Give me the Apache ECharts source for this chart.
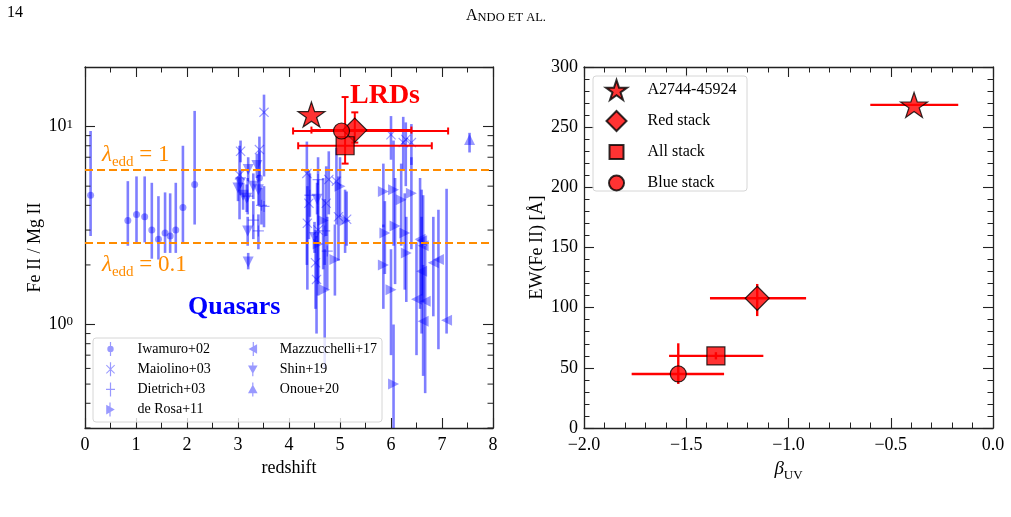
<!DOCTYPE html>
<html lang="en">
<head>
<meta charset="UTF-8">
<title>Fe II / Mg II vs redshift and EW(Fe II) vs beta_UV</title>
<script src="https://cdn.jsdelivr.net/npm/echarts@6/dist/echarts.min.js"></script>
<style>
    html, body { margin: 0; padding: 0; background: #fff; }
    #chart { width: 1011px; height: 517px; }
</style>
</head>
<body>
<div id="chart"></div>
<script>
// ---- quasar samples, each row: [redshift, FeII/MgII, lower, upper] ----
var iwamuro02 = [
    [0.11, 4.5, 2.8, 9.5], [0.84, 3.35, 2.5, 5.3], [1.01, 3.6, 2.6, 5.6], [1.17, 3.5, 2.6, 5.6],
    [1.31, 3.0, 2.15, 5.2], [1.44, 2.7, 2.13, 4.45], [1.57, 2.9, 2.3, 4.65], [1.67, 2.8, 2.3, 4.6],
    [1.78, 3.0, 2.3, 5.2], [1.92, 3.9, 2.6, 8.0], [2.15, 5.1, 3.2, 12.0], [3.42, 5.5, 4.0, 7.5]
];
var maiolino03 = [
    [3.05, 7.5, 6.6, 8.5], [3.03, 5.7, 3.4, 8.0], [3.42, 7.65, 5.6, 8.9], [3.51, 11.8, 5.6, 14.5],
    [4.35, 5.8, 2.0, 8.4], [4.36, 3.25, 1.5, 5.0], [4.39, 4.1, 2.7, 6.0], [4.54, 1.69, 0.9, 2.8],
    [4.52, 2.05, 1.2, 3.0], [4.57, 3.0, 1.6, 5.4], [4.73, 4.1, 2.8, 6.3], [4.78, 5.4, 3.6, 7.5],
    [4.93, 5.3, 3.2, 7.8], [4.97, 3.5, 2.1, 5.6], [5.13, 3.4, 2.5, 4.7], [6.0, 9.1, 6.8, 11.3],
    [6.24, 8.3, 6.0, 11.2], [6.29, 8.6, 5.0, 10.5], [6.4, 8.3, 6.4, 10.3]
];
var dietrich03 = [
    [3.19, 4.45, 3.6, 5.5], [3.3, 3.37, 2.7, 4.2], [3.4, 2.97, 2.4, 3.6], [3.46, 4.0, 3.2, 4.9],
    [3.51, 3.95, 3.1, 5.0], [4.41, 4.5, 3.5, 5.8], [4.57, 5.4, 4.0, 7.0], [4.7, 2.97, 2.0, 4.3],
    [4.75, 2.35, 1.5, 3.5]
];
var deRosa11 = [
    [4.57, 2.55, 1.4, 4.0], [4.67, 3.35, 1.9, 5.5], [4.7, 1.5, 0.6, 2.4], [4.9, 2.13, 1.4, 3.2],
    [5.0, 5.0, 3.5, 7.0], [5.1, 3.35, 2.3, 4.8], [5.85, 4.7, 3.1, 6.5], [5.85, 2.0, 1.2, 3.2],
    [5.88, 2.9, 1.8, 4.2], [6.0, 1.5, 0.7, 2.4], [6.05, 4.8, 2.5, 8.5], [6.05, 0.5, 0.2, 1.0],
    [6.08, 3.15, 1.6, 5.5], [6.2, 4.27, 2.5, 6.5], [6.27, 2.9, 1.5, 4.6], [6.3, 2.3, 1.3, 3.5],
    [6.4, 4.6, 2.4, 7.0]
];
var mazzucchelli17 = [
    [6.5, 1.34, 0.7, 2.6], [6.57, 2.7, 1.2, 5.5], [6.6, 2.65, 1.4, 4.8], [6.6, 1.86, 0.9, 3.5],
    [6.63, 2.5, 1.3, 4.5], [6.63, 1.04, 0.55, 2.0], [6.67, 1.31, 0.45, 2.5], [6.83, 2.05, 1.1, 3.5],
    [6.93, 2.13, 0.75, 3.8], [7.09, 1.05, 0.9, 4.85]
];
var shin19 = [
    [3.0, 4.9, 4.2, 5.6], [3.05, 5.2, 4.5, 6.0], [3.1, 4.5, 3.8, 5.2], [3.17, 4.35, 3.7, 5.1],
    [3.19, 2.97, 2.5, 3.5], [3.2, 6.07, 5.3, 7.0], [3.2, 2.07, 1.9, 2.3], [3.3, 5.0, 4.3, 5.8],
    [3.37, 6.35, 5.5, 7.3], [3.4, 4.8, 4.0, 5.7], [4.5, 2.75, 2.3, 3.3], [4.55, 4.3, 3.6, 5.2]
];
var onoue20 = [
    [7.54, 8.6, 7.4, 9.3]
];

// Eddington ratio levels of the dashed lines
var eddLevels = [6.07, 2.6];
var eddLabels = ['1', '0.1'];

// ---- LRDs ----
var lrdNames = ['A2744-45924', 'Red stack', 'All stack', 'Blue stack'];
// left panel
var lrdRedshift   = [4.44, 5.29, 5.10, 5.03];
var lrdRatio      = [11.5, 9.6, 8.0, 9.5];
var lrdRedshiftLo = [null, 4.44, 4.18, 4.08];
var lrdRedshiftHi = [null, 6.40, 6.80, 7.12];
var lrdRatioLo    = [null, 8.3, 6.5, null];
var lrdRatioHi    = [null, 11.8, 14.1, null];
// right panel
var betaUV   = [-0.386, -1.153, -1.355, -1.539];
var betaLo   = [-0.60, -1.384, -1.584, -1.767];
var betaHi   = [-0.17, -0.914, -1.123, -1.315];
var ewFe     = [268.5, 107.8, 59.9, 44.9];
var ewLo     = [null, 93, 57, 36.6];
var ewHi     = [null, 119.7, 63, 70.4];

// minor ticks of the log axis
var logMinorTicks = [0.3, 0.4, 0.5, 0.6, 0.7, 0.8, 0.9, 2, 3, 4, 5, 6, 7, 8, 9];

var SERIF = '"Liberation Serif", "DejaVu Serif", serif';
var BLUE = 'rgba(0,0,255,0.5)';
var RED = '#ff0000';
var ORANGE = '#ff8c00';
var AXIS = '#222';
var Y_MIN = 0.3, Y_MAX = 20;

// marker shapes
function starPath() {
    var s = 'path://';
    for (var i = 0; i < 10; i++) {
        var a = (-90 + i * 36) * Math.PI / 180;
        var r = i % 2 ? 3.82 : 10;
        s += (i ? 'L' : 'M') + (r * Math.cos(a)).toFixed(3) + ',' + (r * Math.sin(a)).toFixed(3);
    }
    return s + 'Z';
}
var STAR = starPath();
var DIAMOND = 'path://M0,-10L10,0L0,10L-10,0Z';
var PLUS = 'path://M-0.6,-5L0.6,-5L0.6,-0.6L5,-0.6L5,0.6L0.6,0.6L0.6,5L-0.6,5L-0.6,0.6L-5,0.6L-5,-0.6L-0.6,-0.6Z';
var CROSS = 'path://M-5,-4.2L-4.2,-5L0,-0.8L4.2,-5L5,-4.2L0.8,0L5,4.2L4.2,5L0,0.8L-4.2,5L-5,4.2L-0.8,0Z';
var TRI_R = 'path://M-4,-5L5,0L-4,5Z';
var TRI_L = 'path://M4,-5L4,5L-5,0Z';
var TRI_D = 'path://M-5,-4L5,-4L0,5Z';
var TRI_U = 'path://M0,-5L5,4L-5,4Z';

// legend icons: marker with the error bar through it
var BAR = 'M-0.6,-7L0.6,-7L0.6,7L-0.6,7Z';
var LEG = {
    'Iwamuro+02': 'path://' + BAR + 'M-3.2,0A3.2,3.2 0 1 1 3.2,0A3.2,3.2 0 1 1 -3.2,0Z',
    'Maiolino+03': 'path://' + BAR + 'M-4.5,-3.8L-3.8,-4.5L0,-0.7L3.8,-4.5L4.5,-3.8L0.7,0L4.5,3.8L3.8,4.5L0,0.7L-3.8,4.5L-4.5,3.8L-0.7,0Z',
    'Dietrich+03': 'path://' + BAR + 'M-4.5,-0.6L4.5,-0.6L4.5,0.6L-4.5,0.6Z',
    'de Rosa+11': 'path://' + BAR + 'M-3.8,-4.8L4.8,0L-3.8,4.8Z',
    'Mazzucchelli+17': 'path://' + BAR + 'M3.8,-4.8L3.8,4.8L-4.8,0Z',
    'Shin+19': 'path://' + BAR + 'M-4.8,-3.8L4.8,-3.8L0,4.8Z',
    'Onoue+20': 'path://' + BAR + 'M0,-4.8L4.8,3.8L-4.8,3.8Z'
};

var quasarSets = [
    {name: 'Iwamuro+02', data: iwamuro02, symbol: 'circle', size: 7},
    {name: 'Maiolino+03', data: maiolino03, symbol: CROSS, size: 10},
    {name: 'Dietrich+03', data: dietrich03, symbol: PLUS, size: 11},
    {name: 'de Rosa+11', data: deRosa11, symbol: TRI_R, size: 11},
    {name: 'Mazzucchelli+17', data: mazzucchelli17, symbol: TRI_L, size: 11},
    {name: 'Shin+19', data: shin19, symbol: TRI_D, size: 11},
    {name: 'Onoue+20', data: onoue20, symbol: TRI_U, size: 11}
];

function numAxis(o) {
    var base = {
        type: 'value',
        splitLine: {show: false},
        axisLine: {show: true, onZero: false, lineStyle: {color: AXIS, width: 1.3}},
        axisTick: {show: true, inside: true, length: 10, lineStyle: {color: AXIS, width: 1.1}},
        minorTick: {show: true, length: 5.5, lineStyle: {color: AXIS, width: 1}},
        axisLabel: {color: '#000', fontFamily: SERIF, fontSize: 18},
        nameTextStyle: {color: '#000', fontFamily: SERIF, fontSize: 18}
    };
    for (var k in o) {
        if (typeof o[k] === 'object' && base[k] && !Array.isArray(o[k])) {
            for (var j in o[k]) base[k][j] = o[k][j];
        } else base[k] = o[k];
    }
    return base;
}

var chart = echarts.init(document.getElementById('chart'));

var series = [];

// blue error bars (vertical)
var allQuasars = [];
quasarSets.forEach(function (s) { allQuasars = allQuasars.concat(s.data); });
series.push({
    type: 'custom', xAxisIndex: 0, yAxisIndex: 0, silent: true, z: 2,
    data: allQuasars,
    renderItem: function (params, api) {
        var x = api.value(0);
        var lo = api.coord([x, Math.max(api.value(2), Y_MIN)]);
        var hi = api.coord([x, Math.min(api.value(3), Y_MAX)]);
        return {type: 'line', shape: {x1: lo[0], y1: lo[1], x2: hi[0], y2: hi[1]},
            style: {stroke: BLUE, lineWidth: 2.6}};
    }
});

// blue markers
quasarSets.forEach(function (s) {
    series.push({
        type: 'scatter', name: s.name, xAxisIndex: 0, yAxisIndex: 0, z: 3,
        symbol: s.symbol, symbolSize: s.size,
        itemStyle: {color: BLUE},
        data: s.data.map(function (d) { return [d[0], d[1]]; })
    });
});

// minor ticks of the log axis + dashed Eddington lines
series.push({
    type: 'custom', xAxisIndex: 0, yAxisIndex: 0, silent: true, z: 4,
    data: logMinorTicks.map(function (v) { return [0, v]; }),
    renderItem: function (params, api) {
        var cs = params.coordSys;
        var y = api.coord([0, api.value(1)])[1];
        var st = {stroke: AXIS, lineWidth: 1};
        return {type: 'group', children: [
            {type: 'line', shape: {x1: cs.x, y1: y, x2: cs.x + 5.5, y2: y}, style: st},
            {type: 'line', shape: {x1: cs.x + cs.width - 5.5, y1: y, x2: cs.x + cs.width, y2: y}, style: st}
        ]};
    },
    markLine: {
        silent: true, symbol: 'none',
        label: {show: false},
        lineStyle: {color: ORANGE, width: 2, type: [8, 4]},
        data: eddLevels.map(function (v) { return {yAxis: v}; })
    }
});

// red error bars, left panel (capped)
series.push({
    type: 'custom', xAxisIndex: 0, yAxisIndex: 0, silent: true, z: 5,
    data: lrdRedshift.map(function (z, i) { return [z, lrdRatio[i]]; }),
    renderItem: function (params, api) {
        var i = params.dataIndex, ch = [], c = 3.5;
        var st = {stroke: RED, lineWidth: 2};
        if (lrdRedshiftLo[i] != null) {
            var a = api.coord([lrdRedshiftLo[i], lrdRatio[i]]), b = api.coord([lrdRedshiftHi[i], lrdRatio[i]]);
            ch.push({type: 'line', shape: {x1: a[0], y1: a[1], x2: b[0], y2: b[1]}, style: st});
            ch.push({type: 'line', shape: {x1: a[0], y1: a[1] - c, x2: a[0], y2: a[1] + c}, style: st});
            ch.push({type: 'line', shape: {x1: b[0], y1: b[1] - c, x2: b[0], y2: b[1] + c}, style: st});
        }
        if (lrdRatioLo[i] != null) {
            var p = api.coord([lrdRedshift[i], lrdRatioLo[i]]), q = api.coord([lrdRedshift[i], lrdRatioHi[i]]);
            ch.push({type: 'line', shape: {x1: p[0], y1: p[1], x2: q[0], y2: q[1]}, style: st});
            ch.push({type: 'line', shape: {x1: p[0] - c, y1: p[1], x2: p[0] + c, y2: p[1]}, style: st});
            ch.push({type: 'line', shape: {x1: q[0] - c, y1: q[1], x2: q[0] + c, y2: q[1]}, style: st});
        }
        return {type: 'group', children: ch};
    }
});

// red error bars, right panel
series.push({
    type: 'custom', xAxisIndex: 2, yAxisIndex: 2, silent: true, z: 5,
    data: betaUV.map(function (b, i) { return [b, ewFe[i]]; }),
    renderItem: function (params, api) {
        var i = params.dataIndex, ch = [];
        var st = {stroke: RED, lineWidth: 2.4};
        var a = api.coord([betaLo[i], ewFe[i]]), b = api.coord([betaHi[i], ewFe[i]]);
        ch.push({type: 'line', shape: {x1: a[0], y1: a[1], x2: b[0], y2: b[1]}, style: st});
        if (ewLo[i] != null) {
            var p = api.coord([betaUV[i], ewLo[i]]), q = api.coord([betaUV[i], ewHi[i]]);
            ch.push({type: 'line', shape: {x1: p[0], y1: p[1], x2: q[0], y2: q[1]}, style: st});
        }
        return {type: 'group', children: ch};
    }
});

// red markers in both panels
var lrdSymbols = [STAR, DIAMOND, 'rect', 'circle'];
var lrdSizes = [[27, 25], 24, 18, 16];
var lrdIcons = [STAR, DIAMOND,
    'path://M0,-10M0,10M-7,-7L7,-7L7,7L-7,7Z',
    'path://M0,-10M0,10M-7.5,0A7.5,7.5 0 1 1 7.5,0A7.5,7.5 0 1 1 -7.5,0Z'];
lrdNames.forEach(function (n, i) {
    var style = {color: RED, borderColor: '#000', borderWidth: 1.2};
    series.push({
        type: 'scatter', name: n, xAxisIndex: 2, yAxisIndex: 2, z: 6,
        symbol: lrdSymbols[i], symbolSize: lrdSizes[i], itemStyle: style,
        data: [[betaUV[i], ewFe[i]]]
    });
    series.push({
        type: 'scatter', name: n, xAxisIndex: 0, yAxisIndex: 0, z: 6,
        symbol: lrdSymbols[i], symbolSize: lrdSizes[i], itemStyle: style,
        data: [[lrdRedshift[i], lrdRatio[i]]]
    });
});

function legendOf(names, left, top) {
    return {
        orient: 'vertical', left: left, top: top, padding: 0, z: 11,
        itemWidth: 44, itemHeight: 14, itemGap: 6.2, selectedMode: false,
        symbolKeepAspect: true,
        textStyle: {fontFamily: SERIF, fontSize: 14, color: '#000'},
        data: names.map(function (n) { return {name: n, icon: LEG[n]}; })
    };
}

var supRich = {sup: {fontFamily: SERIF, fontSize: 13, verticalAlign: 'top', lineHeight: 12, color: '#000'}};

var option = {
    backgroundColor: '#fff',
    animation: false,
    grid: [
        {left: 85, top: 67, width: 408, height: 361},
        {left: 584, top: 67, width: 409, height: 361}
    ],
    xAxis: [
        numAxis({gridIndex: 0, min: 0, max: 8, interval: 1, position: 'bottom',
            name: 'redshift', nameLocation: 'middle', nameGap: 30,
            minorTick: {splitNumber: 2}, axisLabel: {margin: 8}}),
        numAxis({gridIndex: 0, min: 0, max: 8, interval: 1, position: 'top',
            minorTick: {splitNumber: 2}, axisLabel: {show: false}}),
        numAxis({gridIndex: 1, min: -2, max: 0, interval: 0.5, position: 'bottom',
            name: '{b|β}{s|UV}', nameLocation: 'middle', nameGap: 28,
            nameTextStyle: {rich: {
                b: {fontFamily: SERIF, fontSize: 19, fontStyle: 'italic', lineHeight: 26, verticalAlign: 'middle', color: '#000'},
                s: {fontFamily: SERIF, fontSize: 13, lineHeight: 13, verticalAlign: 'bottom', color: '#000'}}},
            minorTick: {splitNumber: 5},
            axisLabel: {margin: 8, formatter: function (v) {
                return (v < 0 ? '\u2212' : '') + Math.abs(v).toFixed(1);
            }}}),
        numAxis({gridIndex: 1, min: -2, max: 0, interval: 0.5, position: 'top',
            minorTick: {splitNumber: 5}, axisLabel: {show: false}})
    ],
    yAxis: [
        numAxis({gridIndex: 0, type: 'log', logBase: 10, min: Y_MIN, max: Y_MAX, position: 'left',
            name: 'Fe II / Mg II', nameLocation: 'middle', nameGap: 38,
            minorTick: {show: false},
            axisLabel: {margin: 12, showMinLabel: false, showMaxLabel: false, rich: supRich,
                formatter: function (v) { return '10{sup|' + Math.round(Math.log10(v)) + '}'; }}}),
        numAxis({gridIndex: 0, type: 'log', logBase: 10, min: Y_MIN, max: Y_MAX, position: 'right',
            minorTick: {show: false}, axisLabel: {show: false}}),
        numAxis({gridIndex: 1, min: 0, max: 300, interval: 50, position: 'left',
            name: 'EW(Fe II) [Å]', nameLocation: 'middle', nameGap: 38,
            minorTick: {splitNumber: 5}, axisLabel: {margin: 6}}),
        numAxis({gridIndex: 1, min: 0, max: 300, interval: 50, position: 'right',
            minorTick: {splitNumber: 5}, axisLabel: {show: false}})
    ],
    legend: [
        legendOf(['Iwamuro+02', 'Maiolino+03', 'Dietrich+03', 'de Rosa+11'], 106, 342),
        legendOf(['Mazzucchelli+17', 'Shin+19', 'Onoue+20'], 248, 342),
        {
            orient: 'vertical', left: 605, top: 79, padding: 0, z: 11,
            itemWidth: 52, itemHeight: 20, itemGap: 9, selectedMode: false,
            symbolKeepAspect: true,
            textStyle: {fontFamily: SERIF, fontSize: 16, color: '#000'},
            data: lrdNames.map(function (n, i) { return {name: n, icon: lrdIcons[i]}; })
        }
    ],
    graphic: [
        {type: 'text', left: 7, top: 5, style: {text: '14', font: '16px ' + SERIF, fill: '#000'}},
        {type: 'text', x: 506, y: 15, style: {
            text: '{a|A}{b|NDO ET AL.}', align: 'center', verticalAlign: 'middle',
            rich: {a: {font: '16px ' + SERIF, fill: '#000', verticalAlign: 'bottom', lineHeight: 18},
                   b: {font: '12.5px ' + SERIF, fill: '#000', verticalAlign: 'bottom', lineHeight: 15}}}},
        // legend frames
        {type: 'rect', z: 10, shape: {x: 93, y: 338, width: 289, height: 84, r: 3},
            style: {fill: 'rgba(255,255,255,0.8)', stroke: '#d6d6d6', lineWidth: 1}},
        {type: 'rect', z: 10, shape: {x: 593, y: 76, width: 154, height: 115, r: 3},
            style: {fill: 'rgba(255,255,255,0.8)', stroke: '#d6d6d6', lineWidth: 1}},
        // annotations
        {type: 'text', z: 12, x: 350, y: 96, style: {text: 'LRDs', font: 'bold 28px ' + SERIF,
            fill: RED, verticalAlign: 'middle'}},
        {type: 'text', z: 12, x: 188, y: 307, style: {text: 'Quasars', font: 'bold 26px ' + SERIF,
            fill: '#0000ff', verticalAlign: 'middle'}}
    ].concat(eddLabels.map(function (t, i) {
        return {type: 'text', z: 12, x: 102, y: [155, 265][i], style: {
            text: '{l|λ}{s|edd}{e| = ' + t + '}', verticalAlign: 'middle',
            rich: {
                l: {font: 'italic 23px ' + SERIF, fill: ORANGE, lineHeight: 30, verticalAlign: 'middle'},
                s: {font: '15px ' + SERIF, fill: ORANGE, lineHeight: 15, verticalAlign: 'bottom'},
                e: {font: '23px ' + SERIF, fill: ORANGE, lineHeight: 30, verticalAlign: 'middle'}
            }}};
    })),
    series: series
};

chart.setOption(option);
</script>
</body>
</html>
